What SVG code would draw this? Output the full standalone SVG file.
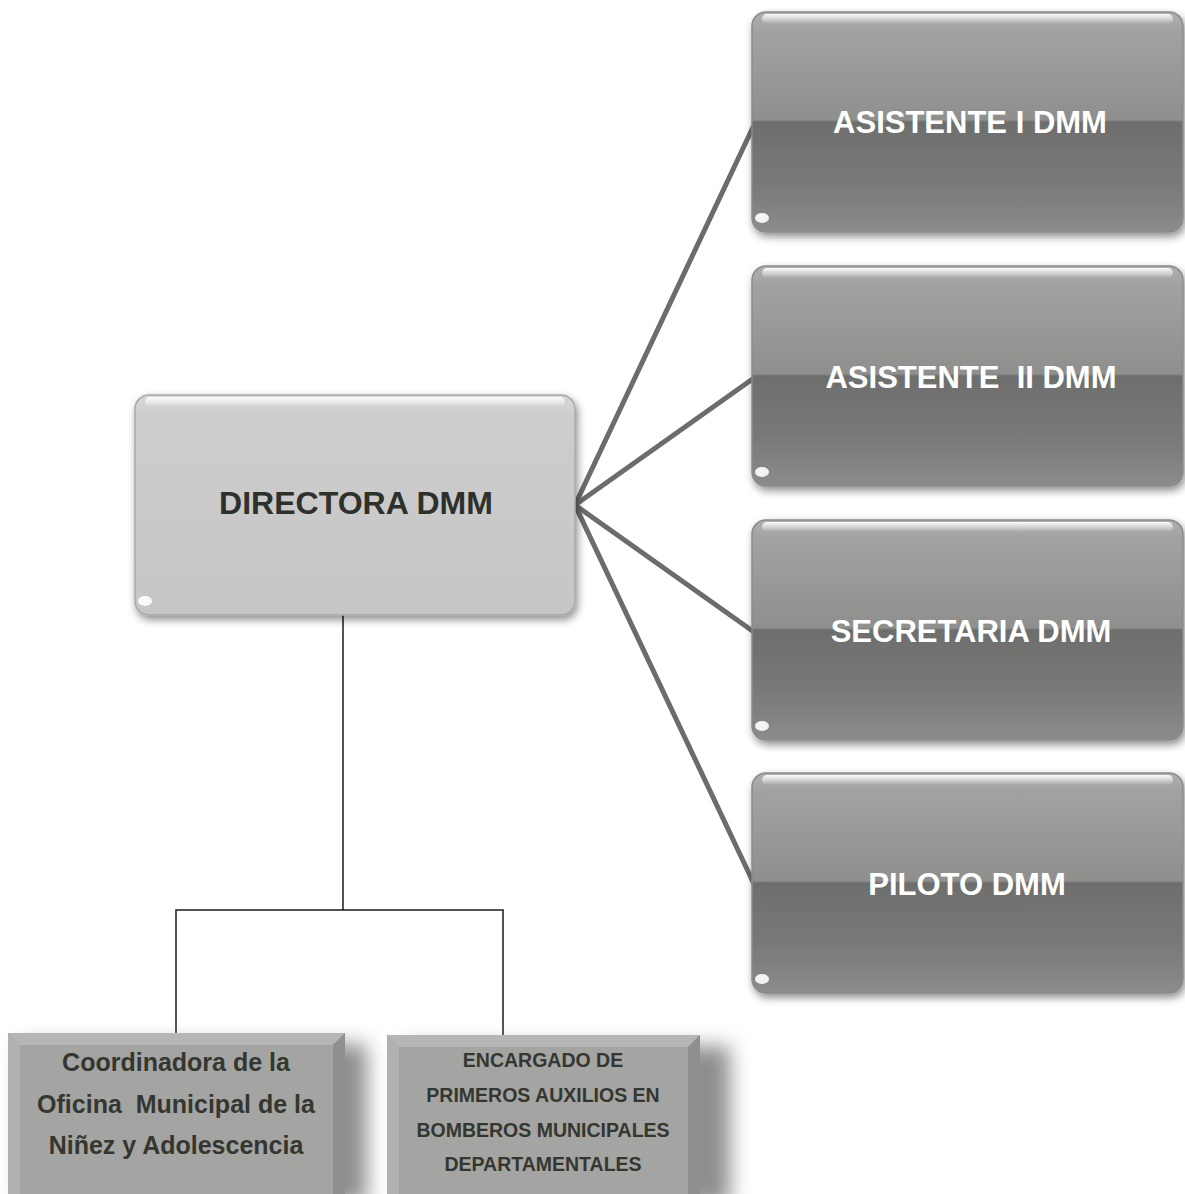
<svg xmlns="http://www.w3.org/2000/svg" width="1185" height="1194" viewBox="0 0 1185 1194">
<defs>
<linearGradient id="gDark" x1="0" y1="0" x2="0" y2="1">
<stop offset="0" stop-color="#b0b1af"/>
<stop offset="0.08" stop-color="#a2a3a1"/>
<stop offset="0.49" stop-color="#8f908e"/>
<stop offset="0.5" stop-color="#6d6e6c"/>
<stop offset="0.8" stop-color="#7a7b79"/>
<stop offset="1" stop-color="#8c8d8b"/>
</linearGradient>
<linearGradient id="gLight" x1="0" y1="0" x2="0" y2="1">
<stop offset="0" stop-color="#d8d8d8"/>
<stop offset="0.1" stop-color="#cdcdcd"/>
<stop offset="1" stop-color="#c6c6c6"/>
</linearGradient>
<linearGradient id="gHi" x1="0" y1="0" x2="0" y2="1">
<stop offset="0" stop-color="#ffffff" stop-opacity="0.95"/>
<stop offset="1" stop-color="#ffffff" stop-opacity="0"/>
</linearGradient>
<filter id="sh" x="-10%" y="-10%" width="125%" height="130%">
<feGaussianBlur in="SourceAlpha" stdDeviation="4"/>
<feOffset dx="2" dy="4" result="b"/>
<feComponentTransfer><feFuncA type="linear" slope="0.45"/></feComponentTransfer>
<feMerge><feMergeNode/><feMergeNode in="SourceGraphic"/></feMerge>
</filter>
<filter id="blur8" x="-20%" y="-20%" width="140%" height="140%">
<feGaussianBlur stdDeviation="10"/>
</filter>
</defs>
<style>
.rbox{fill:url(#gDark);stroke:#8a8b89;stroke-width:1.5}
.dbox{fill:url(#gLight);stroke:#a8a8a8;stroke-width:1.5}
.hi{fill:url(#gHi)}
.blob{fill:#ffffff;opacity:0.9}
.wt{font-family:"Liberation Sans",Arial,sans-serif;font-weight:bold;font-size:31px;fill:#ffffff;text-anchor:middle}
.dt{font-family:"Liberation Sans",Arial,sans-serif;font-weight:bold;font-size:32px;fill:#2e302c;text-anchor:middle}
.bt{font-family:"Liberation Sans",Arial,sans-serif;font-weight:bold;font-size:25px;fill:#343730;text-anchor:middle}
.st{font-family:"Liberation Sans",Arial,sans-serif;font-weight:bold;font-size:19.5px;fill:#343730;text-anchor:middle}
.conn{stroke:#6c6d6b;stroke-width:5;fill:none;stroke-linecap:round}
.tree{stroke:#1a1a1a;stroke-width:1.5;fill:none}
.bev{fill:#a4a4a2}
</style>
<rect width="1185" height="1194" fill="#ffffff"/>
<g id="connectors">
<line class="conn" x1="575" y1="505" x2="754" y2="125"/>
<line class="conn" x1="575" y1="505" x2="754" y2="378"/>
<line class="conn" x1="575" y1="505" x2="754" y2="632"/>
<line class="conn" x1="575" y1="505" x2="754" y2="884"/>
<polyline class="tree" points="343,615 343,910"/>
<polyline class="tree" points="176,1035 176,910 503,910 503,1035"/>
</g>
<g id="directora">
<rect class="dbox" x="135" y="395" width="440" height="220" rx="14" filter="url(#sh)"/>
<rect class="hi" x="145" y="397" width="420" height="10" rx="5"/>
<ellipse class="blob" cx="145" cy="601" rx="7" ry="5"/>
<text class="dt" x="356" y="514">DIRECTORA DMM</text>
</g>
<g id="asistente1">
<rect class="rbox" x="752" y="12" width="431" height="220" rx="14" filter="url(#sh)"/>
<rect class="hi" x="762" y="14" width="411" height="10" rx="5"/>
<ellipse class="blob" cx="762" cy="218" rx="7" ry="5"/>
<text class="wt" x="970" y="133">ASISTENTE I DMM</text>
</g>
<g id="asistente2">
<rect class="rbox" x="752" y="266" width="431" height="220" rx="14" filter="url(#sh)"/>
<rect class="hi" x="762" y="268" width="411" height="10" rx="5"/>
<ellipse class="blob" cx="762" cy="472" rx="7" ry="5"/>
<text class="wt" x="971" y="388" xml:space="preserve">ASISTENTE  II DMM</text>
</g>
<g id="secretaria">
<rect class="rbox" x="752" y="520" width="431" height="220" rx="14" filter="url(#sh)"/>
<rect class="hi" x="762" y="522" width="411" height="10" rx="5"/>
<ellipse class="blob" cx="762" cy="726" rx="7" ry="5"/>
<text class="wt" x="971" y="642">SECRETARIA DMM</text>
</g>
<g id="piloto">
<rect class="rbox" x="752" y="773" width="431" height="220" rx="14" filter="url(#sh)"/>
<rect class="hi" x="762" y="775" width="411" height="10" rx="5"/>
<ellipse class="blob" cx="762" cy="979" rx="7" ry="5"/>
<text class="wt" x="967" y="895">PILOTO DMM</text>
</g>
<g id="coordinadora">
<rect x="22" y="1044" width="345" height="160" fill="#8e8e8e" filter="url(#blur8)"/>
<rect class="bev" x="8" y="1033" width="337" height="161"/>
<polygon points="8,1033 345,1033 333,1045 20,1045" fill="#b6b6b4"/>
<polygon points="8,1033 20,1045 20,1194 8,1194" fill="#b0b0ae"/>
<polygon points="345,1033 345,1194 333,1194 333,1045" fill="#8f8f8d"/>
<text class="bt" x="176" y="1071">Coordinadora de la</text>
<text class="bt" x="176" y="1113" xml:space="preserve">Oficina  Municipal de la</text>
<text class="bt" x="176" y="1154">Niñez y Adolescencia</text>
</g>
<g id="encargado">
<rect x="404" y="1046" width="326" height="160" fill="#8e8e8e" filter="url(#blur8)"/>
<rect class="bev" x="387" y="1035" width="313" height="159"/>
<polygon points="387,1035 700,1035 688,1047 399,1047" fill="#b6b6b4"/>
<polygon points="387,1035 399,1047 399,1194 387,1194" fill="#b0b0ae"/>
<polygon points="700,1035 700,1194 688,1194 688,1047" fill="#8f8f8d"/>
<text class="st" x="543" y="1067">ENCARGADO DE</text>
<text class="st" x="543" y="1102">PRIMEROS AUXILIOS EN</text>
<text class="st" x="543" y="1137">BOMBEROS MUNICIPALES</text>
<text class="st" x="543" y="1171">DEPARTAMENTALES</text>
</g>
</svg>
